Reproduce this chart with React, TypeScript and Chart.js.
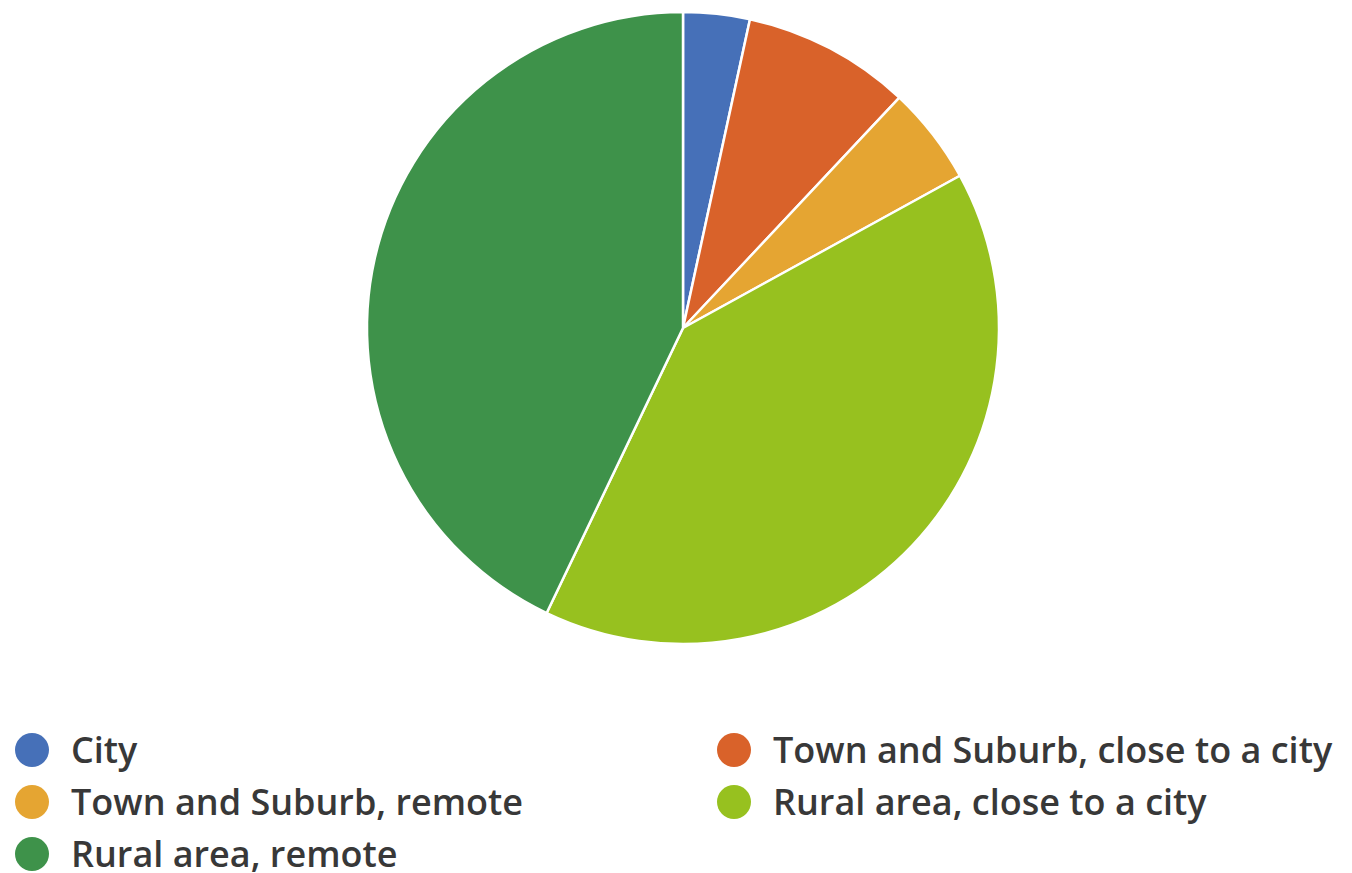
import React, { useEffect, useRef } from "react";
import { Chart, registerables } from "chart.js";

Chart.register(...registerables);

const categories = [
  "City",
  "Town and Suburb, close to a city",
  "Town and Suburb, remote",
  "Rural area, close to a city",
  "Rural area, remote",
];
const values = [3.4, 8.6, 5.0, 40.1, 42.9];
const colors = ["#4670B8", "#D9622A", "#E5A532", "#97C11F", "#3E924A"];

// legend grid: [left of marker, center y]
const legendPos: [number, number][] = [
  [15, 750],
  [717, 750],
  [15, 802],
  [717, 802],
  [15, 854],
];

export default function App() {
  const ref = useRef<HTMLCanvasElement | null>(null);
  useEffect(() => {
    document.body.style.margin = "0";
    if (!ref.current) return;
    const chart = new Chart(ref.current, {
      type: "pie",
      data: {
        labels: categories,
        datasets: [
          {
            data: values,
            backgroundColor: colors,
            borderColor: "#ffffff",
            borderWidth: 2.5,
            radius: 316,
          } as any,
        ],
      },
      options: {
        animation: false,
        responsive: false,
        maintainAspectRatio: false,
        layout: { padding: { top: 12, bottom: 56, left: 14, right: 0 } },
        plugins: {
          legend: { display: false },
          tooltip: { enabled: false },
        },
      },
    });
    return () => chart.destroy();
  }, []);

  return (
    <div style={{ position: "relative", width: 1352, height: 873, background: "#fff", overflow: "hidden" }}>
      <canvas ref={ref} width={1352} height={700} style={{ width: 1352, height: 700, display: "block" }} />
      {categories.map((c, i) => (
        <div
          key={c}
          style={{
            position: "absolute",
            left: legendPos[i][0],
            top: legendPos[i][1] - 22,
            height: 44,
            display: "flex",
            alignItems: "center",
            whiteSpace: "nowrap",
          }}
        >
          <div
            style={{
              width: 34,
              height: 34,
              borderRadius: "50%",
              background: colors[i],
              marginRight: 22,
              flex: "none",
            }}
          />
          <span
            style={{
              fontFamily: "'Open Sans', sans-serif",
              fontSize: 36,
              fontWeight: 600,
              color: "#383838",
              lineHeight: "44px",
            }}
          >
            {c}
          </span>
        </div>
      ))}
    </div>
  );
}
